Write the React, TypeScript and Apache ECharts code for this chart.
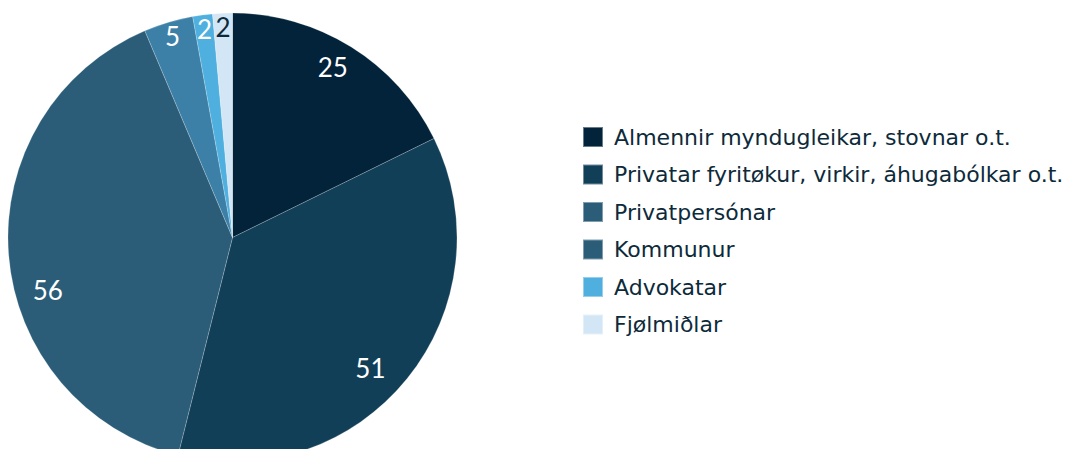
import React, { useEffect, useRef } from "react";
import * as echarts from "echarts";

const categories = [
  "Almennir myndugleikar, stovnar o.t.",
  "Privatar fyritøkur, virkir, áhugabólkar o.t.",
  "Privatpersónar",
  "Kommunur",
  "Advokatar",
  "Fjølmiðlar",
];
const values = [25, 51, 56, 5, 2, 2];
const sliceColors = ["#022339", "#123f58", "#2c5d78", "#3d80a7", "#4fb0e0", "#d3e6f5"];
const legendColors = ["#022339", "#123f58", "#2c5d78", "#2c5d78", "#4fb0e0", "#d3e6f5"];
const labelColors = ["#ffffff", "#ffffff", "#ffffff", "#ffffff", "#ffffff", "#0d2a3a"];
const bigLabelIdx = [0, 1, 2];
const labelNudge = [[-3, -5], [-14, 8], [10, 37], [0, 0], [0, 0], [0, 0]];

export default function App() {
  const ref = useRef<HTMLDivElement>(null);
  useEffect(() => {
    if (!ref.current) return;
    const chart = echarts.init(ref.current, undefined, { renderer: "svg" });
    const center = [224.5, 229.5];
    const R = 224.5;
    const baseData = categories.map((name, i) => ({
      name,
      value: values[i],
      itemStyle: { color: sliceColors[i] },
    }));
    const labelData = (big: boolean) =>
      categories.map((name, i) => ({
        name,
        value: values[i],
        itemStyle: { color: "rgba(0,0,0,0)" },
        label: {
          show: bigLabelIdx.includes(i) === big,
          color: labelColors[i],
          offset: labelNudge[i],
        },
      }));
    chart.setOption({
      animation: false,
      legend: {
        orient: "vertical",
        left: 574,
        top: 118,
        padding: 0,
        itemWidth: 20,
        itemHeight: 20,
        itemGap: 15.5,
        icon: "rect",
        selectedMode: false,
        textStyle: { fontFamily: "DejaVu Sans", fontSize: 22, color: "#0d2a3a", padding: [0, 0, 0, 6] },
        data: categories.map((name, i) => ({ name, itemStyle: { color: legendColors[i] } })),
      },
      series: [
        {
          type: "pie",
          center,
          radius: [0, R],
          startAngle: 90,
          clockwise: true,
          silent: true,
          label: { show: false },
          labelLine: { show: false },
          itemStyle: { borderWidth: 0.5, borderColor: "rgba(255,255,255,0.4)" },
          data: baseData,
        },
        {
          type: "pie",
          center,
          radius: [160, R],
          startAngle: 90,
          clockwise: true,
          silent: true,
          legendHoverLink: false,
          label: { position: "inside", formatter: "{c}", fontFamily: "Lato", fontSize: 26 },
          labelLine: { show: false },
          data: labelData(true),
        },
        {
          type: "pie",
          center,
          radius: [190, R],
          startAngle: 90,
          clockwise: true,
          silent: true,
          legendHoverLink: false,
          label: { position: "inside", formatter: "{c}", fontFamily: "Lato", fontSize: 26 },
          labelLine: { show: false },
          data: labelData(false),
        },
      ],
    });
    return () => chart.dispose();
  }, []);
  return <div ref={ref} style={{ width: 1062, height: 441 }} />;
}
